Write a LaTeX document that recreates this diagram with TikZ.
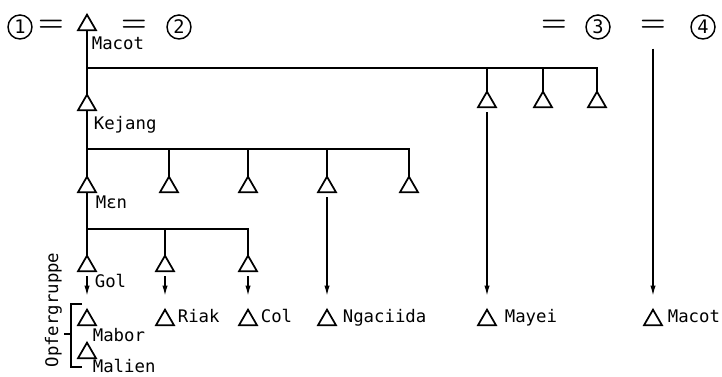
\documentclass[tikz,border=0pt]{standalone}
\usepackage{fontspec}
\setmonofont{DejaVu Sans Mono}
\usetikzlibrary{shapes.geometric,arrows.meta}
\begin{document}
\begin{tikzpicture}[x=0.75pt,y=0.75pt,yscale=-1,xscale=1,line width=1.3pt,
  tri/.style={draw,regular polygon,regular polygon sides=3,minimum size=15.5pt,inner sep=0pt,outer sep=0pt},
  wife/.style={draw,circle,minimum size=18pt,inner sep=0pt,line width=1.1pt,font=\ttfamily\fontsize{14}{14}\selectfont},
  eq/.style={inner sep=0pt,font=\rmfamily\bfseries\fontsize{22}{22}\selectfont},
  lbl/.style={anchor=base west,inner sep=0.75pt,font=\ttfamily\fontsize{13}{13}\selectfont},
  desc/.style={-{Latex[length=8pt,width=4pt]},shorten <=4pt,shorten >=10pt}]
\useasboundingbox (0,0) rectangle (722,377);

% Marriage row
\node [wife] (w1) at (20,27) {1};
\node [eq] (eq1) at (51,26) {=};
\node [tri] (mac) at (87,25) {};
\node [eq] (eq2) at (134,26) {=};
\node [wife] (w2) at (179,27) {2};
\node [eq] (eq3) at (554,26) {=};
\node [wife] (w3) at (598,27) {3};
\node [eq] (eq4) at (653,26) {=};
\node [wife] (w4) at (703,27) {4};

% Generations
\node [tri] (kej) at (87,105) {};
\node [tri] (r1) at (487,102) {};
\node [tri] (r2) at (543,102) {};
\node [tri] (r3) at (597,102) {};
\node [tri] (men) at (87,187) {};
\node [tri] (k2) at (169,187) {};
\node [tri] (k3) at (248,187) {};
\node [tri] (k4) at (327,187) {};
\node [tri] (k5) at (409,187) {};
\node [tri] (gol) at (87,266) {};
\node [tri] (g2) at (165,266) {};
\node [tri] (g3) at (248,266) {};

% Bottom row
\node [tri] (mab) at (87,320) {};
\node [tri] (mal) at (87,353) {};
\node [tri] (riak) at (165,320) {};
\node [tri] (col) at (248,320) {};
\node [tri] (nga) at (327,320) {};
\node [tri] (may) at (487,320) {};
\node [tri] (mac2) at (653,320) {};

%Straight Lines
\coordinate (bar1) at (87,68);
\coordinate (bar2) at (87,149);
\coordinate (bar3) at (87,229);
\draw (mac) -- (kej);
\draw (kej) -- (men);
\draw (men) -- (gol);
\foreach \n in {r1,r2,r3} \draw (bar1) -| (\n);
\foreach \n in {k2,k3,k4,k5} \draw (bar2) -| (\n);
\foreach \n in {g2,g3} \draw (bar3) -| (\n);

%Arrows
\foreach \a/\b in {gol/mab,g2/riak,g3/col,k4/nga,r1/may} \draw [desc] (\a) -- (\b);
\draw [desc,shorten <=12pt] (eq4) -- (mac2);

%Bracket
\draw (82,304) -- (71,304) -- (71,367) -- (82,367);
\draw (71,334) -- (64,334);

% Text Node
\node [lbl] (lmacot) at (90,50) {Macot};
% Text Node
\node [lbl] (lkej) at (92,130) {Kejang};
% Text Node
\node [lbl] (lmen) at (94,209) {Mɛn};
% Text Node
\node [lbl] (lgol) at (93,288) {Gol};
% Text Node
\node [lbl] (lmab) at (91,342) {Mabor};
% Text Node
\node [lbl] (lmal) at (91,373) {Malien};
% Text Node
\node [lbl] (lriak) at (176,323) {Riak};
% Text Node
\node [lbl] (lcol) at (259,323) {Col};
% Text Node
\node [lbl] (lnga) at (341,323) {Ngaciida};
% Text Node
\node [lbl] (lmay) at (503,323) {Mayei};
% Text Node
\node [lbl] (lmac2) at (666,323) {Macot};
% Text Node
\node [lbl,anchor=base,rotate=90] (lopf) at (58,310) {Opfergruppe};
\end{tikzpicture}
\end{document}
